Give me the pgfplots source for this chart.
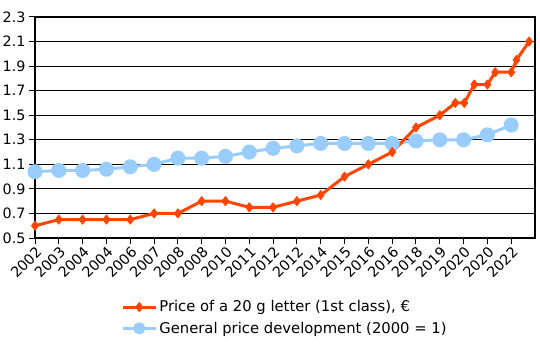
\documentclass[border=0pt]{standalone}
\usepackage{pgfplots}
\pgfplotsset{compat=1.18}
\usepackage{fontspec}
\setmainfont{DejaVu Sans}
\definecolor{redl}{RGB}{255,69,0}
\definecolor{bluel}{RGB}{153,204,255}
\begin{document}
\begin{tikzpicture}
\useasboundingbox (-35bp,-122bp) rectangle (505bp,238bp);
\begin{axis}[
  at={(0,0)}, anchor=south west,
  scale only axis, width=500bp, height=221bp,
  xmin=0, xmax=21, ymin=0.5, ymax=2.3,
  font=\fontsize{14.3bp}{17bp}\selectfont,
  /pgf/number format/assume math mode=true,
  ytick={0.5,0.7,0.9,1.1,1.3,1.5,1.7,1.9,2.1,2.3},
  yticklabel style={/pgf/number format/fixed,/pgf/number format/precision=1,/pgf/number format/fixed zerofill},
  xtick={0,...,20},
  xticklabels={2002,2003,2004,2004,2006,2007,2008,2008,2010,2011,2012,2012,2014,2015,2016,2016,2018,2019,2020,2020,2022},
  xticklabel style={rotate=45, anchor=north east, inner sep=1bp},
  xtick pos=left, ytick pos=left,
  tick align=outside, major tick length=6bp,
  tick style={black, line width=1bp},
  axis line style={black, line width=1.2bp},
  ymajorgrids, grid style={black, line width=1bp},
  legend style={at={(0.5,-0.265)}, anchor=north, draw=none, fill=none, font=\fontsize{14.8bp}{17bp}\selectfont, row sep=4.5bp},
  legend cell align=left,
  legend image code/.code={\draw[mark repeat=2,mark phase=2] plot coordinates {(0bp,0bp)(16.5bp,0bp)(33bp,0bp)};},
]
\addplot[bluel, line width=3bp, mark=*, mark size=6bp, mark options={fill=bluel, draw=bluel}, forget plot] coordinates {
(0,1.04)(1,1.05)(2,1.05)(3,1.06)(4,1.08)(5,1.10)(6,1.15)(7,1.15)(8,1.165)(9,1.20)(10,1.23)(11,1.25)(12,1.27)(13,1.27)(14,1.27)(15,1.27)(16,1.29)(17,1.30)(18,1.30)(19,1.34)(20,1.42)
};
\addplot[redl, line width=3bp, line join=round, mark=diamond*, mark size=4.5bp, mark options={fill=redl, draw=redl, line width=1bp}] coordinates {
(0,0.60)(1,0.65)(2,0.65)(3,0.65)(4,0.65)(5,0.70)(6,0.70)(7,0.80)(8,0.80)(9,0.75)(10,0.75)(11,0.80)(12,0.85)(13,1.00)(14,1.10)(15,1.20)(16,1.40)(17,1.50)(17.65,1.60)(18.03,1.60)(18.45,1.75)(19.0,1.75)(19.33,1.85)(20.0,1.85)(20.22,1.95)(20.75,2.10)
};
\addlegendentry{Price of a 20 g letter (1st class), €}
\addlegendimage{bluel, line width=3bp, mark=*, mark size=4.5bp, mark options={fill=bluel, draw=bluel}}
\addlegendentry{General price development (2000 = 1)}
\end{axis}
\end{tikzpicture}
\end{document}
